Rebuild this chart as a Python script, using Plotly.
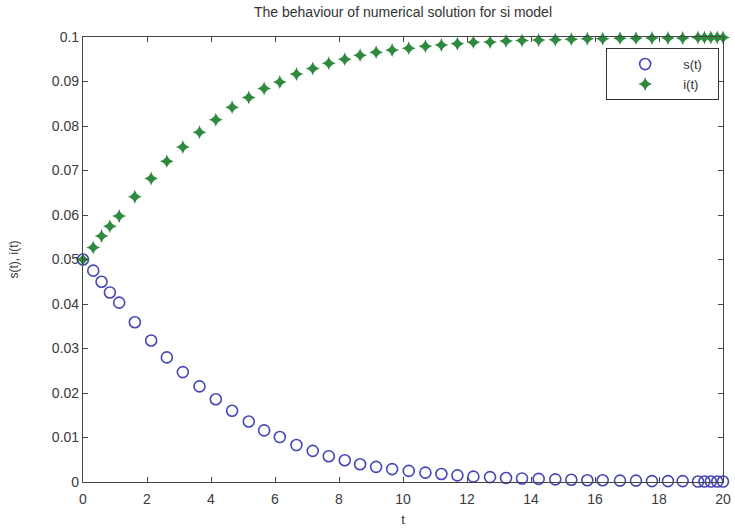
import plotly.graph_objects as go

t = [0, 0.32, 0.58, 0.84, 1.13, 1.62, 2.13, 2.62, 3.12, 3.64, 4.15, 4.66, 5.18, 5.66,
     6.15, 6.67, 7.18, 7.68, 8.18, 8.66, 9.16, 9.66, 10.18, 10.7, 11.2, 11.7, 12.2,
     12.72, 13.22, 13.72, 14.24, 14.76, 15.26, 15.76, 16.24, 16.78, 17.28, 17.78,
     18.28, 18.74, 19.22, 19.42, 19.62, 19.82, 20.0]
s_vals = [0.05, 0.0475, 0.045, 0.0426, 0.0403, 0.0359, 0.0318, 0.028, 0.0247, 0.0215,
          0.0186, 0.016, 0.0136, 0.0116, 0.0101, 0.0083, 0.007, 0.0058, 0.0049, 0.004,
          0.0034, 0.0029, 0.0025, 0.0021, 0.0018, 0.0015, 0.0012, 0.0011, 0.0009,
          0.0008, 0.0007, 0.0006, 0.0005, 0.0004, 0.0004, 0.0003, 0.0003, 0.0002,
          0.0002, 0.0002, 0.0001, 0.0001, 0.0001, 0.0001, 0.0001]
i_vals = [0.05, 0.0527, 0.0553, 0.0575, 0.0598, 0.0641, 0.0682, 0.0721, 0.0753, 0.0786,
          0.0814, 0.0842, 0.0864, 0.0884, 0.0899, 0.0917, 0.0929, 0.0941, 0.0950, 0.0959,
          0.0966, 0.0971, 0.0975, 0.0979, 0.0982, 0.0985, 0.0988, 0.0989, 0.0991,
          0.0992, 0.0993, 0.0994, 0.0995, 0.0996, 0.0996, 0.0997, 0.0997, 0.0998,
          0.0998, 0.0998, 0.0999, 0.0999, 0.0999, 0.0999, 0.0999]

x_ticks = [0, 2, 4, 6, 8, 10, 12, 14, 16, 18, 20]
y_ticks = [0, 0.01, 0.02, 0.03, 0.04, 0.05, 0.06, 0.07, 0.08, 0.09, 0.1]
y_labels = ["0", "0.01", "0.02", "0.03", "0.04", "0.05", "0.06", "0.07", "0.08", "0.09", "0.1"]
series_names = ["s(t)", "i(t)"]

FONT = "Liberation Sans, Arial"
PAD = "&nbsp;" * 3

fig = go.Figure()
fig.add_trace(go.Scatter(
    x=t, y=s_vals, mode="markers", name=series_names[0] + PAD, cliponaxis=False,
    marker=dict(symbol="circle-open", size=11, color="#4646b8", line=dict(width=1.6)),
))
fig.add_trace(go.Scatter(
    x=t, y=i_vals, mode="markers", name=series_names[1] + PAD, cliponaxis=False,
    marker=dict(symbol="star-diamond", size=10, color="#2e8b3e", line=dict(width=0)),
))

axis_common = dict(
    showline=True, linecolor="#444", linewidth=1.2, mirror="ticks",
    ticks="inside", ticklen=5, tickcolor="#444", showgrid=False, zeroline=False,
    automargin=False,
    tickfont=dict(family=FONT, size=14, color="#3a3a3a"),
)

W, H = 735, 532
fig.update_layout(
    width=W, height=H,
    margin=dict(l=83, r=12, t=37, b=50),
    paper_bgcolor="white", plot_bgcolor="white",
    title=dict(text="The behaviour of numerical solution for si model",
               x=(83 + 640 / 2) / W, xanchor="center", y=1 - 12 / H, yanchor="middle",
               font=dict(family=FONT, size=14, color="#333")),
    xaxis=dict(range=[0, 20], tickvals=x_ticks, ticktext=[str(v) for v in x_ticks],
               ticklabelstandoff=4,
               title=dict(text="t", standoff=8,
                          font=dict(family=FONT, size=13, color="#333")),
               **axis_common),
    yaxis=dict(range=[0, 0.1], tickvals=y_ticks, ticktext=y_labels,
               title=dict(text="s(t), i(t)", standoff=30,
                          font=dict(family=FONT, size=12, color="#333")),
               **axis_common),
    legend=dict(x=0.994, xanchor="right", y=0.975, yanchor="top",
                bgcolor="white", bordercolor="#333", borderwidth=1,
                font=dict(family=FONT, size=13, color="#333"),
                itemwidth=66),
    showlegend=True,
)

fig.write_html("out.html", config={"displayModeBar": False},
               post_script="document.body.style.margin='0';document.body.style.overflow='hidden';")
